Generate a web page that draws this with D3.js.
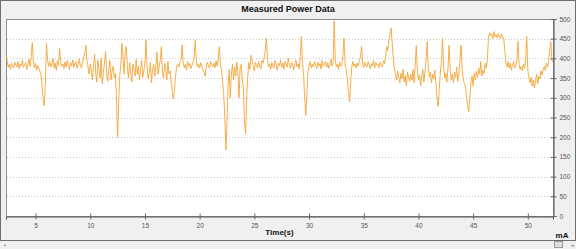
<!DOCTYPE html>
<html>
<head>
<meta charset="utf-8">
<script src="https://cdn.jsdelivr.net/npm/d3@7"></script>
<style>
  body { margin: 0; background: #f0f0f0; }
  svg { display: block; font-family: "Liberation Sans", Arial, sans-serif; }
</style>
</head>
<body>
<div id="chart"></div>
<script>
(function(){
  // samples every 0.1 s starting at 2.3 s
  const startTime = 2.3, step = 0.1;
  const xTicks = [5, 10, 15, 20, 25, 30, 35, 40, 45, 50];
  const yTicks = [0, 50, 100, 150, 200, 250, 300, 350, 400, 450, 500];
  const power = [
    410, 395, 378, 385, 372, 388, 380, 376, 390, 383,
    378, 392, 374, 386, 381, 395, 377, 384, 389, 372,
    385, 398, 380, 405, 440, 392, 376, 388, 370, 382,
    375, 368, 360, 330, 295, 280, 340, 438, 395, 380,
    392, 378, 385, 400, 375, 388, 370, 394, 382, 425,
    392, 380, 386, 374, 391, 378, 395, 383, 372, 389,
    380, 396, 377, 388, 392, 375, 385, 398, 381, 376,
    390, 402, 412, 433, 395, 378, 360, 385, 372, 345,
    380, 410, 362, 340, 395, 372, 350, 400, 335, 365,
    388, 418, 360, 342, 375, 395, 345, 368, 380, 350,
    362, 300, 200, 290, 355, 385, 438, 400, 360, 420,
    430, 375, 350, 390, 362, 340, 385, 370, 355, 398,
    360, 380, 345, 372, 395, 352, 368, 390, 446, 375,
    348, 365, 390, 338, 372, 385, 355, 378, 417, 360,
    380, 395, 430, 365, 350, 388, 372, 345, 392, 360,
    368, 340, 318, 297, 320, 355, 380, 385, 378, 392,
    395, 434, 388, 376, 385, 370, 392, 380, 387, 374,
    382, 390, 405, 446, 392, 378, 386, 375, 389, 380,
    372, 365, 355, 378, 390, 382, 375, 392, 384, 378,
    388, 376, 394, 380, 398, 430, 385, 370, 340, 310,
    250, 168, 240, 330, 372, 300, 360, 385, 345, 378,
    355, 390, 362, 300, 375, 385, 350, 320, 240, 208,
    300, 355, 390, 372, 408, 395, 380, 368, 390, 384,
    376, 392, 380, 374, 395, 388, 402, 420, 451, 398,
    378, 385, 372, 390, 380, 376, 394, 383, 370, 388,
    381, 396, 377, 388, 372, 392, 385, 378, 400, 382,
    375, 390, 383, 371, 387, 395, 379, 386, 373, 405,
    456, 392, 360, 300, 255, 310, 365, 380, 392, 376,
    385, 378, 392, 382, 374, 390, 380, 387, 373, 395,
    380, 386, 392, 377, 389, 375, 384, 398, 381, 390,
    495, 395, 378, 386, 372, 390, 380, 384, 410, 451,
    385, 372, 350, 318, 290, 335, 378, 392, 380, 386,
    375, 388, 380, 395, 402, 430, 385, 376, 390, 381,
    378, 392, 384, 373, 387, 380, 395, 376, 389, 383,
    385, 376, 390, 382, 378, 394, 386, 405, 430, 420,
    445, 460, 477, 440, 400, 375, 360, 345, 368, 352,
    338, 362, 348, 372, 340, 356, 330, 365, 350, 342,
    360, 345, 372, 338, 380, 433, 370, 345, 358, 330,
    355, 372, 340, 368, 395, 443, 380, 352, 365, 338,
    360, 348, 370, 335, 300, 278, 320, 365, 392, 451,
    380, 350, 362, 340, 375, 433, 372, 345, 360, 338,
    365, 352, 378, 342, 360, 395, 433, 370, 348, 335,
    330, 300, 280, 265, 300, 340, 355, 330, 362, 345,
    368, 352, 375, 360, 392, 355, 370, 362, 388, 375,
    395, 452, 465, 458, 462, 450, 468, 455, 460, 452,
    463, 457, 450, 461, 455, 448, 420, 385, 378, 392,
    375, 388, 370, 384, 392, 376, 380, 398, 443, 385,
    372, 380, 368, 385, 375, 400, 456, 370, 350, 338,
    352, 330, 345, 325, 340, 360, 335, 355, 348, 368,
    358, 372, 380, 370, 388, 378, 392, 420, 443, 395,
    390
  ];

  const width = 576, height = 249;
  const margin = { top: 19, right: 23, bottom: 33, left: 6 };

  const svg = d3.select("#chart")
    .append("svg")
    .attr("width", width)
    .attr("height", height);

  const data = power.map((v, i) => ({ t: startTime + i * step, v: v }));

  const x = d3.scaleLinear()
    .domain([startTime, startTime + (power.length - 1) * step])
    .range([margin.left, width - margin.right]);

  const y = d3.scaleLinear()
    .domain([0, 500])
    .range([height - margin.bottom, margin.top]);

  // window frame
  svg.append("rect")
    .attr("x", 0.5).attr("y", 0.5)
    .attr("width", width - 1).attr("height", 240)
    .attr("fill", "#f0f0f0")
    .attr("stroke", "#6e6e6e");

  svg.append("text")
    .attr("x", width / 2)
    .attr("y", 12)
    .attr("text-anchor", "middle")
    .attr("font-size", "9px")
    .attr("font-weight", "bold")
    .attr("fill", "#111")
    .text("Measured Power Data");

  // plot area
  svg.append("rect")
    .attr("x", margin.left + 0.5).attr("y", margin.top + 0.5)
    .attr("width", width - margin.right - margin.left)
    .attr("height", height - margin.bottom - margin.top)
    .attr("fill", "#fff")
    .attr("stroke", "#8c8c8c");

  svg.append("g")
    .selectAll("line")
    .data(yTicks.filter(d => d > 0 && d < 500))
    .join("line")
    .attr("x1", margin.left + 1)
    .attr("x2", width - margin.right)
    .attr("y1", d => Math.round(y(d)) + 0.5)
    .attr("y2", d => Math.round(y(d)) + 0.5)
    .attr("stroke", "#c8c8c8")
    .attr("stroke-dasharray", "1,2");

  svg.append("path")
    .datum(data)
    .attr("fill", "none")
    .attr("stroke", "#f4a536")
    .attr("stroke-width", 0.9)
    .attr("stroke-linejoin", "round")
    .attr("d", d3.line().x(d => x(d.t)).y(d => y(d.v)));

  // bottom axis
  const xAxis = svg.append("g")
    .attr("transform", `translate(0,${height - margin.bottom + 0.5})`)
    .call(d3.axisBottom(x).tickValues(xTicks).tickSize(3).tickPadding(4));
  xAxis.select(".domain").attr("stroke", "#555");
  xAxis.selectAll(".tick line").attr("y1", -3).attr("stroke", "#666");
  xAxis.selectAll(".tick text")
    .attr("font-size", "6.5px")
    .attr("fill", "#555")
    .attr("font-family", "Liberation Sans, Arial, sans-serif");

  // right axis
  const yAxis = svg.append("g")
    .attr("transform", `translate(${width - margin.right + 0.5},0)`)
    .call(d3.axisRight(y).tickValues(yTicks).tickSize(3).tickPadding(3));
  yAxis.select(".domain").attr("stroke", "#555");
  yAxis.selectAll(".tick line").attr("x1", -3).attr("stroke", "#666");
  yAxis.selectAll(".tick text")
    .attr("font-size", "6.5px")
    .attr("fill", "#555")
    .attr("font-family", "Liberation Sans, Arial, sans-serif");

  svg.append("text")
    .attr("x", (margin.left + width - margin.right) / 2)
    .attr("y", 235)
    .attr("text-anchor", "middle")
    .attr("font-size", "8px")
    .attr("font-weight", "bold")
    .attr("fill", "#111")
    .text("Time(s)");

  svg.append("text")
    .attr("x", 562)
    .attr("y", 238)
    .attr("text-anchor", "middle")
    .attr("font-size", "8px")
    .attr("font-weight", "bold")
    .attr("fill", "#111")
    .text("mA");

  // status strip
  svg.append("rect")
    .attr("x", 554.5).attr("y", 241.5)
    .attr("width", 8).attr("height", 6)
    .attr("fill", "#dcdcdc").attr("stroke", "#9a9a9a");
  svg.append("text")
    .attr("x", 571).attr("y", 247)
    .attr("font-size", "6px").attr("fill", "#666")
    .text("»");
  svg.append("text")
    .attr("x", 4).attr("y", 247)
    .attr("font-size", "5px").attr("fill", "#666")
    .text("•");
})();
</script>
</body>
</html>
